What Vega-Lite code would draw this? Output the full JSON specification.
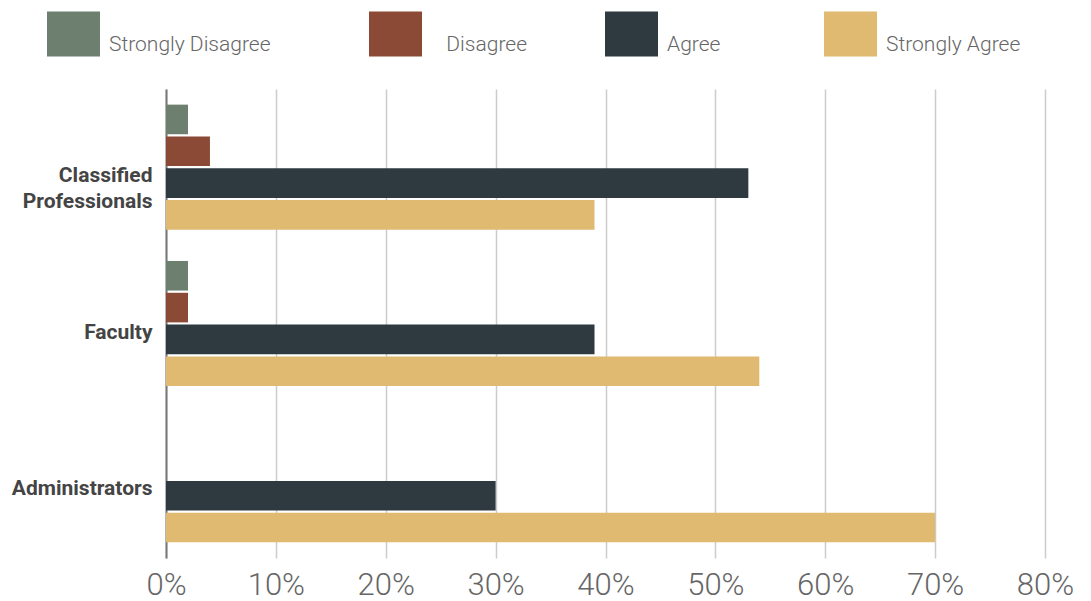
{
  "$schema": "https://vega.github.io/schema/vega-lite/v6.json",
  "width": 879,
  "height": 469,
  "autosize": {"type": "none"},
  "padding": {"left": 166, "top": 89, "right": 46, "bottom": 43},
  "background": "white",
  "config": {"font": "Roboto", "view": {"stroke": null}},
  "data": {
    "values": [
      {"group": "Classified Professionals", "response": "Strongly Disagree", "pct": 2},
      {"group": "Classified Professionals", "response": "Disagree", "pct": 4},
      {"group": "Classified Professionals", "response": "Agree", "pct": 53},
      {"group": "Classified Professionals", "response": "Strongly Agree", "pct": 39},
      {"group": "Faculty", "response": "Strongly Disagree", "pct": 2},
      {"group": "Faculty", "response": "Disagree", "pct": 2},
      {"group": "Faculty", "response": "Agree", "pct": 39},
      {"group": "Faculty", "response": "Strongly Agree", "pct": 54},
      {"group": "Administrators", "response": "Strongly Disagree", "pct": 0},
      {"group": "Administrators", "response": "Disagree", "pct": 0},
      {"group": "Administrators", "response": "Agree", "pct": 30},
      {"group": "Administrators", "response": "Strongly Agree", "pct": 70}
    ]
  },
  "mark": {"type": "bar"},
  "encoding": {
    "y": {
      "field": "group",
      "type": "nominal",
      "sort": ["Classified Professionals", "Faculty", "Administrators"],
      "scale": {"paddingInner": 0.2, "paddingOuter": 0.1},
      "axis": {
        "title": null,
        "domain": true,
        "domainColor": "#777777",
        "domainWidth": 2,
        "ticks": false,
        "grid": false,
        "labelPadding": 14,
        "labelFont": "Roboto",
        "labelFontSize": 21,
        "labelFontWeight": "bold",
        "labelColor": "#444444",
        "labelBaseline": "alphabetic",
        "labelOffset": 15,
        "labelLineHeight": 26,
        "labelLimit": 300,
        "labelExpr": "datum.value == 'Classified Professionals' ? ['Classified', 'Professionals'] : datum.value"
      }
    },
    "yOffset": {
      "field": "response",
      "type": "nominal",
      "sort": ["Strongly Disagree", "Disagree", "Agree", "Strongly Agree"],
      "scale": {"paddingInner": 0.07, "paddingOuter": 0}
    },
    "x": {
      "field": "pct",
      "type": "quantitative",
      "scale": {"domain": [0, 80]},
      "axis": {
        "title": null,
        "values": [0, 10, 20, 30, 40, 50, 60, 70, 80],
        "labelExpr": "datum.value + '%'",
        "grid": true,
        "gridColor": "#cccccc",
        "gridWidth": 1.5,
        "domain": false,
        "ticks": false,
        "labelFont": "Roboto",
        "labelFontSize": 31,
        "labelFontWeight": 300,
        "labelColor": "#666666",
        "labelPadding": 12,
        "labelFlush": false,
        "labelOverlap": false
      }
    },
    "color": {
      "field": "response",
      "type": "nominal",
      "scale": {
        "domain": ["Strongly Disagree", "Disagree", "Agree", "Strongly Agree"],
        "range": ["#6d8070", "#8b4a35", "#2e3940", "#e0ba70"]
      },
      "legend": {
        "orient": "none",
        "legendX": -119,
        "legendY": -82,
        "direction": "horizontal",
        "columns": 4,
        "title": null,
        "padding": 0,
        "symbolType": "M-1,-0.85H1V0.85H-1Z",
        "symbolSize": 2809,
        "symbolStrokeWidth": 0,
        "symbolOpacity": 1,
        "labelFont": "Roboto",
        "labelFontSize": 21,
        "labelFontWeight": 300,
        "labelColor": "#666666",
        "labelBaseline": "top",
        "labelOffset": 9,
        "labelLimit": 400,
        "columnPadding": 78,
        "labelExpr": "datum.label == 'Strongly Disagree' ? 'Strongly Disagree\u00a0\u00a0\u00a0\u00a0\u200b' : datum.label == 'Disagree' ? '\u200b\u00a0\u00a0\u00a0Disagree' : datum.label == 'Agree' ? 'Agree\u00a0\u00a0\u00a0\u00a0\u00a0\u200b' : datum.label"
      }
    }
  }
}
